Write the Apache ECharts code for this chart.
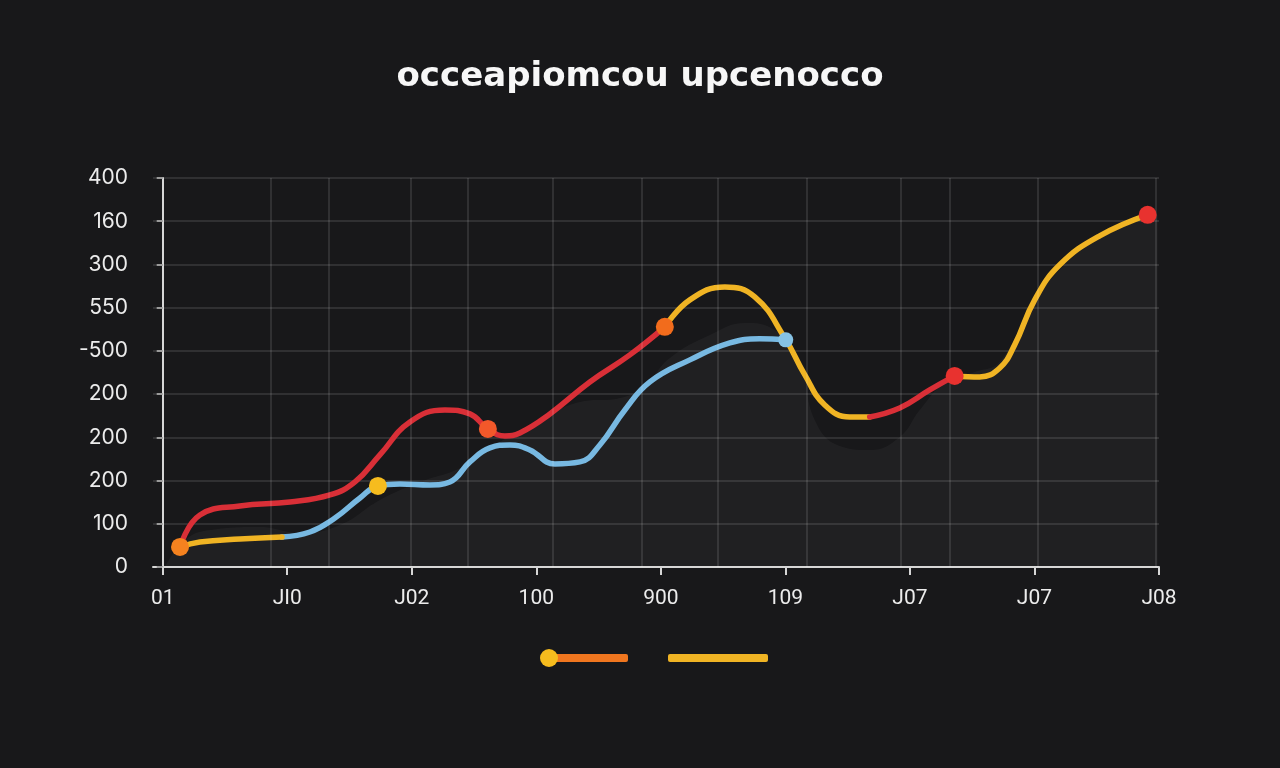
<!DOCTYPE html>
<html>
<head>
<meta charset="utf-8">
<script src="https://cdn.jsdelivr.net/npm/echarts@6/dist/echarts.min.js"></script>
<style>
html,body{margin:0;padding:0;background:#18181a;}
#chart{width:1280px;height:768px;}
</style>
</head>
<body>
<div id="chart"></div>
<script>
// ---- data ----
const titleText = 'occeapiomcou upcenocco';
const xLabels = ['01', 'JI0', 'J02', '100', '900', '109', 'J07', 'J07', 'J08'];
const yLabels = ['0', '100', '200', '200', '200', '-500', '550', '300', '160', '400'];
const gridX = [0.870, 1.335, 1.985, 2.451, 3.133, 3.855, 4.457, 5.172, 5.934, 6.319, 7.025, 7.973];

const areaBand = [
  [0.018, 0], [0.179, 0.625], [0.380, 0.856], [0.781, 0.926], [1.102, 0.787], [1.423, 0.972],
  [1.744, 1.551], [2.066, 1.968], [2.387, 2.292], [2.708, 2.894], [3.029, 3.403], [3.350, 3.819],
  [3.671, 3.912], [3.872, 4.213], [4.072, 4.838], [4.393, 5.370], [4.674, 5.648], [4.915, 5.486],
  [5.116, 4.792], [5.236, 3.403], [5.437, 2.801], [5.677, 2.708], [5.918, 3.009], [6.079, 3.634],
  [6.279, 4.259], [6.520, 4.514], [6.721, 4.745], [6.962, 5.949], [7.203, 6.875], [7.524, 7.616],
  [7.909, 8.079], [7.989, 8.148]
];
const redUpper = [
  [0.139, 0.463], [0.299, 1.204], [0.620, 1.412], [1.022, 1.505], [1.343, 1.667], [1.544, 1.968],
  [1.744, 2.593], [1.985, 3.356], [2.266, 3.634], [2.467, 3.542], [2.611, 3.194], [2.748, 3.032],
  [2.868, 3.102], [3.109, 3.542], [3.430, 4.282], [3.751, 4.907], [4.032, 5.556]
];
const yellowPeak = [
  [4.032, 5.556], [4.233, 6.181], [4.514, 6.481], [4.754, 6.250], [4.995, 5.301], [5.156, 4.444],
  [5.316, 3.750], [5.517, 3.472], [5.677, 3.472]
];
const redDip = [[5.677, 3.472], [5.918, 3.681], [6.159, 4.097], [6.359, 4.421]];
const yellowRise = [
  [6.359, 4.421], [6.560, 4.398], [6.721, 4.606], [6.841, 5.139], [7.002, 6.181], [7.203, 6.991],
  [7.524, 7.662], [7.909, 8.148]
];
const yellowStart = [[0.139, 0.463], [0.299, 0.579], [0.620, 0.648], [0.958, 0.694]];
const blueLower = [
  [0.958, 0.694], [1.182, 0.810], [1.383, 1.134], [1.584, 1.597], [1.728, 1.875], [1.905, 1.921],
  [2.146, 1.898], [2.306, 1.968], [2.467, 2.431], [2.627, 2.755], [2.788, 2.824], [2.948, 2.708],
  [3.149, 2.384], [3.350, 2.431], [3.510, 2.824], [3.711, 3.634], [3.912, 4.282], [4.233, 4.792],
  [4.554, 5.185], [4.794, 5.278], [5.003, 5.255]
];
const markerPoints = [
  [0.139, 0.463], [1.728, 1.875], [2.611, 3.194], [4.032, 5.556], [5.003, 5.255], [6.359, 4.421], [7.909, 8.148]
];

// ---- styles ----
const C = { red: '#d92f37', yellow: '#f0b424', blue: '#78b9e2', orange: '#f0761f' };
const markerColors = ['#f5821f', '#f6bc1e', '#f2582a', '#f26c1c', '#86c3e6', '#e8322f', '#e8322f'];
const markerSizes = [18, 18, 18, 18, 15, 18, 18];

function lineSeries(name, data, color, extra) {
  return Object.assign({
    name: name, type: 'line', data: data, smooth: 0.45, showSymbol: false, symbol: 'none',
    lineStyle: { color: color, width: 5.5, cap: 'round', join: 'round' },
    itemStyle: { color: color }, silent: true
  }, extra || {});
}

const chart = echarts.init(document.getElementById('chart'));
chart.setOption({
  backgroundColor: '#18181a',
  animation: false,
  title: {
    text: titleText, left: 'center', top: 55,
    textStyle: { color: '#f7f7f7', fontSize: 34, fontWeight: 700, fontFamily: 'DejaVu Sans' }
  },
  grid: { left: 153, right: 121, top: 178, bottom: 201, containLabel: false },
  xAxis: {
    type: 'value', min: -0.078, max: 8,
    axisLine: { show: true, lineStyle: { color: '#d6d6d6', width: 2 } },
    axisTick: { show: true, customValues: [0, 1, 2, 3, 4, 5, 6, 7, 8], length: 8, lineStyle: { color: '#d6d6d6', width: 2 } },
    axisLabel: {
      customValues: [0, 1, 2, 3, 4, 5, 6, 7, 8],
      formatter: function (v) { return xLabels[Math.round(v)]; },
      color: '#ececec', fontSize: 21, fontFamily: 'Roboto', margin: 21
    },
    splitLine: { show: false }
  },
  yAxis: {
    type: 'value', min: 0, max: 9, interval: 1,
    axisLine: { show: true, lineStyle: { color: '#d6d6d6', width: 2 } },
    axisTick: { show: true, inside: false, length: 6, lineStyle: { color: '#9a9a9a', width: 2 } },
    axisLabel: {
      formatter: function (v) { return yLabels[Math.round(v)]; },
      color: '#ececec', fontSize: 21, fontFamily: 'Inter', margin: 25
    },
    splitLine: { show: true, lineStyle: { color: 'rgba(255,255,255,0.14)', width: 1.5 } }
  },
  legend: [
    { left: 540, top: 649, padding: 0, itemWidth: 18, itemHeight: 18, icon: 'circle', formatter: function () { return ''; },
      data: [{ name: 'Markers', itemStyle: { color: '#f6bc1e', opacity: 1 } }], selectedMode: false, z: 5 },
    { left: 549, top: 654, padding: 0, itemWidth: 79, itemHeight: 8, icon: 'roundRect', formatter: function () { return ''; },
      data: [{ name: 'Series A', itemStyle: { color: C.orange } }], selectedMode: false, z: 4 },
    { left: 668, top: 654, padding: 0, itemWidth: 100, itemHeight: 8, icon: 'roundRect', formatter: function () { return ''; },
      data: [{ name: 'Series B', itemStyle: { color: C.yellow } }], selectedMode: false }
  ],
  series: [
    {
      name: 'Band', type: 'line', data: areaBand, smooth: 0.45, symbol: 'none', silent: true,
      lineStyle: { width: 0 }, areaStyle: { color: 'rgba(255,255,255,0.05)' },
      markLine: {
        silent: true, symbol: ['none', 'none'], label: { show: false },
        lineStyle: { color: 'rgba(255,255,255,0.14)', width: 1.5, type: 'solid' },
        data: gridX.map(function (v) { return { xAxis: v }; })
      }
    },
    lineSeries('Series C', blueLower, C.blue),
    lineSeries('Series B0', yellowStart, C.yellow),
    lineSeries('Series A', redUpper, C.red),
    lineSeries('Series B', yellowPeak, C.yellow),
    lineSeries('Series A2', redDip, C.red),
    lineSeries('Series B2', yellowRise, C.yellow),
    {
      name: 'Markers', type: 'scatter', silent: true,
      itemStyle: { opacity: 1 },
      data: markerPoints.map(function (p, i) {
        return { value: p, symbolSize: markerSizes[i], itemStyle: { color: markerColors[i], opacity: 1 } };
      }),
      z: 5
    }
  ]
});
</script>
</body>
</html>
